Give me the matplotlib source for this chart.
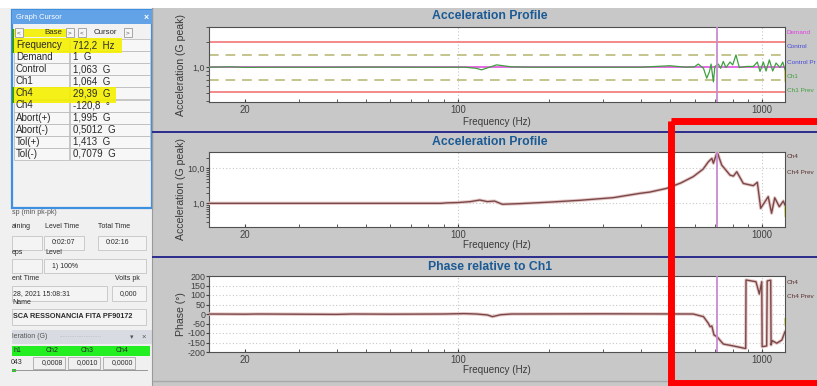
import matplotlib
matplotlib.use("Agg")
import matplotlib.pyplot as plt
from matplotlib import font_manager
from matplotlib.patches import Rectangle
from matplotlib.ticker import FixedLocator, NullFormatter, FixedFormatter
import matplotlib.patheffects as pe

# ---------------------------------------------------------------- data
cursor_freq = 712.2
demand_level = 1.0
abort_hi, abort_lo = 1.995, 0.5012
tol_hi, tol_lo = 1.413, 0.7079
ch4_at_cursor = 29.39
ch4_phase_at_cursor = -120.8
control_at_cursor = 1.063
ch1_at_cursor = 1.064

freq_span = [15.2, 1190.0]

ch1_freq = [15.2, 18, 20, 25, 35, 50, 70, 90, 105, 115, 119.6, 125, 134, 150,
            175, 250, 400, 498, 560, 600, 617, 642, 658, 672, 680, 692, 700,
            712.2, 718, 731, 746, 761, 785, 801, 821, 842, 890, 936, 965, 985,
            1010, 1031, 1057, 1084, 1112, 1146, 1170, 1190]
ch1_resp = [1.0, 1.01, 0.995, 1.0, 0.998, 1.003, 1.0, 0.998, 1.0, 0.97, 0.93,
            0.98, 1.065, 1.01, 1.0, 1.0, 1.0, 1.04, 1.0, 1.01, 1.09, 0.97,
            0.74, 0.89, 1.09, 0.67, 1.02, 1.064, 1.09, 0.97, 1.17, 0.99, 1.15,
            1.065, 1.40, 0.99, 1.02, 1.02, 1.15, 0.89, 1.15, 0.90, 1.22, 0.90,
            1.12, 0.99, 1.15, 0.93]
ch1_prev_tail_freq = [1186, 1190]
ch1_prev_tail = [0.90, 0.68]

ch4_freq = [15.2, 30, 60, 88, 92, 100, 110, 118, 125, 132, 140, 160, 196,
            252, 324, 397, 428, 486, 540, 594, 640, 666, 684, 692, 712.2, 737,
            785, 805, 826, 868, 936, 965, 990, 1048, 1075, 1101, 1140, 1175,
            1190]
ch4_mag = [1.0, 1.0, 1.0, 1.0, 1.03, 1.05, 1.12, 1.24, 1.12, 1.16, 0.94, 0.98,
           1.07, 1.22, 1.45, 1.93, 2.1, 2.68, 3.8, 5.8, 9.5, 15.4, 19.3, 14.0,
           29.39, 12.4, 6.4, 6.0, 8.0, 3.7, 3.2, 4.0, 0.72, 1.55, 0.52, 1.44,
           0.80, 1.16, 0.89]
ch4_prev_tail_freq = [1186, 1190]
ch4_prev_tail = [0.80, 0.42]

phase_freq = [15.2, 20, 22, 40, 45, 60, 90, 105, 115, 125, 130, 138, 150, 300,
              594, 642, 666, 675, 684, 695, 712.2, 746, 804, 879, 884, 886,
              955, 980, 998, 1001, 1036, 1040, 1068, 1071, 1080, 1118, 1162,
              1190]
phase_deg = [0, -1, 0, -2, 0, -1, 0, 2, 0, -5, -14, -4, 0, 1, 0, -14, -49,
             -67, -63, -110, -120.8, -158, -168, -181, -181, 179, 170, 105,
             170, -172, -168, 174, 178, -163, -140, -154, -137, -93]
phase_prev_tail_freq = [1186, 1190]
phase_prev_tail = [-25, -60]

x_major = [20, 100, 1000]
x_minor = [30, 40, 50, 60, 70, 80, 90, 200, 300, 400, 500, 600, 700, 800, 900]
phase_ticks = list(range(-200, 201, 50))


def dec(v, nd):
    return f"{v:.{nd}f}".replace(".", ",")


cursor_rows = [
    ("Frequency", f"{dec(cursor_freq, 1)}  Hz"),
    ("Demand", f"{dec(demand_level, 0)}  G"),
    ("Control", f"{dec(control_at_cursor, 3)}  G"),
    ("Ch1", f"{dec(ch1_at_cursor, 3)}  G"),
    ("Ch4", f"{dec(ch4_at_cursor, 2)}  G"),
    ("Ch4", f"{dec(ch4_phase_at_cursor, 1)}  °"),
    ("Abort(+)", f"{dec(abort_hi, 3)}  G"),
    ("Abort(-)", f"{dec(abort_lo, 4)}  G"),
    ("Tol(+)", f"{dec(tol_hi, 3)}  G"),
    ("Tol(-)", f"{dec(tol_lo, 4)}  G"),
]

# ---------------------------------------------------------------- fonts
names = {f.name for f in font_manager.fontManager.ttflist}
if "Liberation Sans Narrow" in names:
    FONT, K = "Liberation Sans Narrow", 1.0
else:
    FONT, K = "Liberation Sans", 0.84
plt.rcParams["font.family"] = [FONT, "DejaVu Sans"]

W, H = 817, 386
fig = plt.figure(figsize=(W / 100, H / 100), dpi=100, facecolor="white")


def frac(x0, y0, x1, y1):
    return [x0 / W, 1 - y1 / H, (x1 - x0) / W, (y1 - y0) / H]


# ---------------------------------------------------------------- window chrome
bg = fig.add_axes([0, 0, 1, 1])
bg.set_xlim(0, W)
bg.set_ylim(H, 0)
bg.axis("off")

bg.add_patch(Rectangle((152, 8), W - 152, H - 8, color="#c8c8c8", lw=0))
bg.add_patch(Rectangle((0, 8), 152, H - 8, color="#f0f0f0", lw=0))
bg.plot([152.5, 152.5], [8, H], color="#9a9a9a", lw=0.8)
for yy in (131.5, 256.5):
    bg.plot([153, W], [yy, yy], color="#2b2b8c", lw=1.4)
bg.plot([153, W], [380.5, 380.5], color="#a8a8a8", lw=1.0)

TXT = "#2a2a2a"

# graph cursor box
bg.add_patch(Rectangle((12, 10), 140, 198, facecolor="#f2f2f2",
                       edgecolor="#3d8fe0", lw=1.6))
bg.add_patch(Rectangle((12, 10), 140, 14, facecolor="#62a2e6", lw=0))
bg.text(16, 17.5, "Graph Cursor", color="white", fontsize=6.4 * K,
        va="center", ha="left")
bg.text(146, 17.5, "×", color="white", fontsize=7.5 * K, va="center",
        ha="center", fontweight="bold")

# highlighter strokes (under the text)
hl = dict(facecolor="#f4f000", alpha=0.9, lw=0, zorder=1.6)
bg.add_patch(Rectangle((13, 29), 62, 8, **hl))
bg.add_patch(Rectangle((13, 38), 109, 15, **hl))
bg.add_patch(Rectangle((13, 87), 103, 16, **hl))
bg.add_patch(Rectangle((12, 29), 2, 24, facecolor="#2e9a2e", lw=0, zorder=1.7))
bg.add_patch(Rectangle((12, 87), 2, 16, facecolor="#2e9a2e", lw=0, zorder=1.7))

# header buttons
for bx, sym in ((15, "<"), (66, ">"), (78, "<"), (124, ">")):
    bg.add_patch(Rectangle((bx, 28), 8, 9, facecolor="#f6f6f6",
                           edgecolor="#9a9a9a", lw=0.6, zorder=1.8))
    bg.text(bx + 4, 32.5, sym, fontsize=5.5 * K, ha="center", va="center",
            color="#555555")
bg.text(44, 32.5, "Base", fontsize=6.8 * K, va="center", color=TXT)
bg.text(94, 32.5, "Cursor", fontsize=6.8 * K, va="center", color=TXT)

row_y0, row_dy = 45.0, 12.1
for i, (lab, val) in enumerate(cursor_rows):
    yc = row_y0 + i * row_dy
    bg.add_patch(Rectangle((14, yc - 6), 55, row_dy, facecolor="#f7f7f7",
                           edgecolor="#b4b4b4", lw=0.5))
    bg.add_patch(Rectangle((70, yc - 6), 80, row_dy, facecolor="#f7f7f7",
                           edgecolor="#b4b4b4", lw=0.5))
    bg.text(16, yc, lab, fontsize=8.4 * K, va="center", color=TXT)
    bg.text(73, yc, val, fontsize=8.4 * K, va="center", color=TXT)

# status form below
SM = 6.0 * K
bg.text(12, 212, "sp (min pk-pk)", fontsize=SM, va="center", color="#555555")
bg.text(12, 226, "aining", fontsize=SM, va="center", color=TXT)
bg.text(45, 226, "Level Time", fontsize=SM, va="center", color=TXT)
bg.text(98, 226, "Total Time", fontsize=SM, va="center", color=TXT)
for (x0, y0, w, h, s, bold) in (
        (12, 236, 30, 14, "", False), (44, 236, 40, 14, "0:02:07", False),
        (98, 236, 48, 14, "0:02:16", False), (12, 259, 30, 14, "", False),
        (44, 259, 102, 14, "1) 100%", False),
        (12, 286, 95, 15, "28, 2021 15:08:31", False),
        (112, 286, 34, 15, "0,000", False),
        (12, 309, 134, 16, "SCA RESSONANCIA FITA PF90172", True)):
    bg.add_patch(Rectangle((x0, y0), w, h, facecolor="#f4f4f4",
                           edgecolor="#c4c4c4", lw=0.6))
    if s:
        tx = x0 + 1 if x0 == 12 else x0 + 8
        bg.text(tx, y0 + h / 2, s, fontsize=SM if not bold else 6.2 * K,
                va="center", color=TXT, fontweight="bold" if bold else None)
bg.text(12, 252, "eps", fontsize=SM, va="center", color=TXT)
bg.text(45, 252, "Level", fontsize=SM, va="center", color=TXT)
bg.text(12, 279, "ent Time", fontsize=SM, va="center", color=TXT)
bg.text(115, 279, "Volts pk", fontsize=SM, va="center", color=TXT)
bg.text(12, 303, "Name", fontsize=SM, va="center", color=TXT)

bg.add_patch(Rectangle((12, 330), 140, 14, facecolor="#d9dbe3", lw=0))
bg.text(12, 337, "leration (G)", fontsize=SM, va="center", color="#555555")
bg.text(59, 337, "·" * 24, fontsize=4.5 * K, va="center", color="#9a9aa6")
bg.text(132, 337, "▾", fontsize=6 * K, va="center", ha="center",
        color="#555555", family="DejaVu Sans")
bg.text(144, 337, "×", fontsize=6.5 * K, va="center", ha="center",
        color="#555555")
bg.add_patch(Rectangle((12, 346), 138, 10, facecolor="#22ee22", lw=0))
for cx, lab, val in ((17, "h1", "043"), (52, "Ch2", "0,0008"),
                     (87, "Ch3", "0,0010"), (122, "Ch4", "0,0000")):
    bg.text(cx, 351, lab, fontsize=SM, va="center", ha="center", color=TXT)
    bg.text(cx, 363, val, fontsize=SM, va="center", ha="center", color=TXT)
for x0 in (33, 68, 103):
    bg.add_patch(Rectangle((x0, 357), 32, 12, facecolor="none",
                           edgecolor="#a8a8a8", lw=0.6))
bg.plot([12, 147], [369.5, 369.5], color="#888888", lw=0.6)
bg.add_patch(Rectangle((12, 369), 4, 2.5, facecolor="#22cc22", lw=0))

# ---------------------------------------------------------------- chart panels
TITLE_C = "#1b5a94"
LAB_C = "#3a3a3a"
TICK_FS = 7.6 * K
GRID = dict(color="#c8c8c8", ls=(0, (1, 2)), lw=0.8)


def setup_axis(ax):
    ax.set_xscale("log")
    ax.set_xlim(*freq_span)
    ax.xaxis.set_major_locator(FixedLocator(x_major))
    ax.xaxis.set_major_formatter(FixedFormatter([str(v) for v in x_major]))
    ax.xaxis.set_minor_locator(FixedLocator(x_minor))
    ax.xaxis.set_minor_formatter(NullFormatter())
    ax.tick_params(axis="x", which="both", direction="in", length=2.5,
                   labelsize=8.2 * K, pad=2.5, colors="#404040")
    ax.tick_params(axis="y", which="both", direction="out", length=2,
                   labelsize=TICK_FS, pad=1, colors="#404040")
    for s in ax.spines.values():
        s.set_color("#505050")
        s.set_linewidth(0.8)
    for xv in (100, 1000):
        ax.axvline(xv, zorder=0.5, **GRID)
    ax.axvline(cursor_freq, color="#c88ad2", lw=1.3, zorder=4)


panels = [(27, 102, 16, 122, "Acceleration Profile", "Acceleration (G peak)"),
          (152, 227, 142, 245, "Acceleration Profile", "Acceleration (G peak)"),
          (276, 352, 267, 370, "Phase relative to Ch1", "Phase (°)")]
axes = []
for (y0, y1, ty, xly, title, ylab) in panels:
    ax = fig.add_axes(frac(209, y0, 785, y1))
    setup_axis(ax)
    axes.append(ax)
    bg.text(490, ty, title, fontsize=10.5 * K, fontweight="bold",
            color=TITLE_C, ha="center", va="center")
    bg.text(497, xly, "Frequency (Hz)", fontsize=8.5 * K, color=LAB_C,
            ha="center", va="center")
    bg.text(181, (y0 + y1) / 2, ylab, fontsize=(9 * K if K == 1 else 7.6),
            color=LAB_C, ha="center", va="center", rotation=90)

ax1, ax2, ax3 = axes

# top: demand, limits, response
ax1.set_yscale("log")
ax1.set_ylim(0.386, 3.0)
ax1.yaxis.set_major_locator(FixedLocator([1.0]))
ax1.yaxis.set_major_formatter(FixedFormatter(["1,0"]))
ax1.yaxis.set_minor_locator(FixedLocator([0.4, 0.5, 0.6, 0.7, 0.8, 0.9, 2, 3]))
ax1.yaxis.set_minor_formatter(NullFormatter())
for lv in (abort_hi, abort_lo):
    ax1.axhline(lv, color="#f06a6a", lw=1.1, zorder=2)
for lv in (tol_hi, tol_lo):
    ax1.axhline(lv, color="#c4c48c", lw=1.4, ls=(0, (5, 3.5)), zorder=2)
ax1.plot(freq_span, [demand_level, demand_level], color="#e050e0", lw=1.2,
         zorder=3)
ax1.plot(ch1_freq, ch1_resp, color="#3f9f3f", lw=0.9, zorder=3.5)
ax1.plot(ch1_prev_tail_freq, ch1_prev_tail, color="#d4d460", lw=1.0, zorder=3)

# middle: Ch4 magnitude
halo = [pe.Stroke(linewidth=2.4, foreground="#e6c8c8"), pe.Normal()]
ax2.set_yscale("log")
ax2.set_ylim(0.21, 29.4)
ax2.yaxis.set_major_locator(FixedLocator([1.0, 10.0]))
ax2.yaxis.set_major_formatter(FixedFormatter(["1,0", "10,0"]))
ax2.yaxis.set_minor_locator(FixedLocator([0.3, 0.4, 0.5, 0.6, 0.7, 0.8, 0.9,
                                          2, 3, 4, 5, 6, 7, 8, 9, 20]))
ax2.yaxis.set_minor_formatter(NullFormatter())
for yv in (1.0, 10.0):
    ax2.axhline(yv, zorder=0.5, **GRID)
ax2.plot(ch4_freq, ch4_mag, color="#7a4848", lw=1.0, zorder=3,
         path_effects=halo)
ax2.plot(ch4_prev_tail_freq, ch4_prev_tail, color="#d4d460", lw=1.0, zorder=3)

# bottom: Ch4 phase
ax3.set_ylim(-200, 200)
ax3.yaxis.set_major_locator(FixedLocator(phase_ticks))
ax3.yaxis.set_major_formatter(FixedFormatter([str(v) for v in phase_ticks]))
ax3.tick_params(axis="y", labelsize=7.6 * K, pad=0.5)
for yv in phase_ticks[1:-1]:
    ax3.axhline(yv, zorder=0.5, **GRID)
ax3.plot(phase_freq, phase_deg, color="#7a4848", lw=1.0, zorder=3,
         path_effects=halo)
ax3.plot(phase_prev_tail_freq, phase_prev_tail, color="#d4d460", lw=1.0,
         zorder=3)

# legends at the right edge of each panel
LEG_FS = 5.5 * K
for y, s, c in ((32, "Demand", "#e040e0"), (47, "Control", "#4848d8"),
                (62, "Control Pr", "#4848d8"), (76, "Ch1", "#3f9f3f"),
                (91, "Ch1 Prev", "#3f9f3f"),
                (157, "Ch4", "#5a3030"), (172, "Ch4 Prev", "#5a3030"),
                (282, "Ch4", "#5a3030"), (296, "Ch4 Prev", "#5a3030")):
    bg.text(787, y, s, fontsize=LEG_FS, color=c, va="center", ha="left")

# ---------------------------------------------------------------- marker box
ov = fig.add_axes([0, 0, 1, 1], zorder=10)
ov.set_xlim(0, W)
ov.set_ylim(H, 0)
ov.axis("off")
ov.patch.set_alpha(0)
ov.add_patch(Rectangle((671.5, 121), 160, 262, facecolor="none",
                       edgecolor="#ff0000", lw=5.0))

fig.savefig("out.png", dpi=100, facecolor="white")
